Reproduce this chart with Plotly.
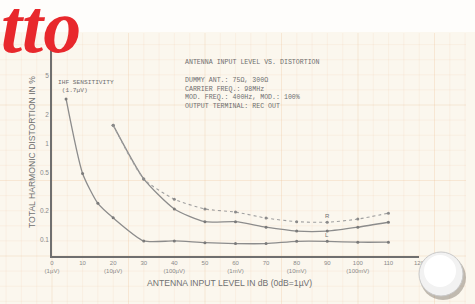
import math
import plotly.graph_objects as go

# ---- data ----
mono_x = [4.6, 10, 15, 20, 30, 40, 50, 60, 70, 80, 90, 100, 110]
mono_y = [2.9, 0.49, 0.24, 0.17, 0.098, 0.098, 0.094, 0.092, 0.092, 0.097, 0.097, 0.095, 0.095]
stl_x = [20, 30, 40, 50, 60, 70, 80, 90, 100, 110]
stl_y = [1.55, 0.43, 0.21, 0.155, 0.155, 0.136, 0.124, 0.124, 0.136, 0.153]
str_x = [20, 30, 40, 50, 60, 70, 80, 90, 100, 110]
str_y = [1.55, 0.43, 0.265, 0.21, 0.195, 0.169, 0.155, 0.153, 0.165, 0.19]
x_ticks = [0, 10, 20, 30, 40, 50, 60, 70, 80, 90, 100, 110, 120]
x_ticktext = ["0<br>(1µV)", "10", "20<br>(10µV)", "30", "40<br>(100µV)", "50", "60<br>(1mV)",
              "70", "80<br>(10mV)", "90", "100<br>(100mV)", "110", "120"]
y_ticks = [0.1, 0.2, 0.5, 1, 2, 5]
y_ticktext = ["0.1", "0.2", "0.5", "1", "2", "5"]

W, H = 475, 304
L, R, T, B = 52, 56, 47, 48
PW, PH = W - L - R, H - T - B

def px(x):
    return (x - L) / PW

def py(y):
    return (H - B - y) / PH

LINE = "#8c8c8c"
fig = go.Figure()
fig.add_trace(go.Scatter(x=mono_x, y=mono_y, mode="lines+markers", line=dict(color=LINE, width=1.3, shape="spline", smoothing=0.6),
                         marker=dict(size=3, color="#7a7a7a"), showlegend=False))
fig.add_trace(go.Scatter(x=stl_x, y=stl_y, mode="lines+markers", line=dict(color=LINE, width=1.3, shape="spline", smoothing=0.6),
                         marker=dict(size=3, color="#7a7a7a"), showlegend=False))
fig.add_trace(go.Scatter(x=str_x, y=str_y, mode="lines+markers", line=dict(color="#a0a0a0", width=1.1, dash="dot", shape="spline", smoothing=0.6),
                         marker=dict(size=3, color="#8a8a8a"), showlegend=False))

shapes = []
# graph paper background
shapes.append(dict(type="rect", xref="paper", yref="paper", x0=px(0), x1=px(W), y0=py(0), y1=py(32),
                   fillcolor="#fefdfb", line=dict(width=0), layer="below"))
GRID = "rgba(240,195,160,0.15)"
GRID_H = "rgba(236,185,140,0.26)"
k = -3
while True:
    xx = L + 15.3 * k
    if xx > 466:
        break
    shapes.append(dict(type="line", xref="paper", yref="paper", x0=px(xx), x1=px(xx), y0=py(33), y1=py(H),
                       line=dict(color=GRID_H if k % 5 == 0 else GRID, width=1), layer="below"))
    k += 1
k = -3
while True:
    yy = (H - B) - 15.1 * k
    if yy < 33:
        break
    shapes.append(dict(type="line", xref="paper", yref="paper", x0=px(0), x1=px(466), y0=py(yy), y1=py(yy),
                       line=dict(color=GRID_H if k % 5 == 0 else GRID, width=1), layer="below"))
    k += 1
# ball
shapes.append(dict(type="circle", xref="paper", yref="paper", x0=px(420), x1=px(466), y0=py(255), y1=py(300),
                   fillcolor="rgba(120,110,100,0.45)", line=dict(width=0), layer="above"))
shapes.append(dict(type="circle", xref="paper", yref="paper", x0=px(419), x1=px(463), y0=py(252), y1=py(296),
                   fillcolor="#f2f2f2", line=dict(color="#c9c9c9", width=1), layer="above"))
shapes.append(dict(type="circle", xref="paper", yref="paper", x0=px(424), x1=px(456), y0=py(255), y1=py(287),
                   fillcolor="#ffffff", line=dict(width=0), layer="above"))

MONO = "Liberation Mono"
TXT = "#6e6e6e"
annotations = [
    dict(text="tto", xref="paper", yref="paper", x=px(-1), y=py(-18), xanchor="left", yanchor="top", showarrow=False,
         font=dict(family="Liberation Serif", size=76, color="#e8282c", style="italic", weight="bold")),
    dict(text="ANTENNA INPUT LEVEL VS. DISTORTION", xref="paper", yref="paper", x=px(183), y=py(62), xanchor="left",
         yanchor="middle", showarrow=False, font=dict(family=MONO, size=6.6, color=TXT)),
    dict(text="DUMMY ANT.: 75Ω, 300Ω<br>CARRIER FREQ.: 98MHz<br>MOD. FREQ.: 400Hz, MOD.: 100%<br>OUTPUT TERMINAL: REC OUT",
         xref="paper", yref="paper", x=px(183), y=py(75), xanchor="left", yanchor="top", align="left", showarrow=False,
         font=dict(family=MONO, size=6.6, color=TXT)),
    dict(text="IHF SENSITIVITY<br> (1.7µV)", xref="paper", yref="paper", x=px(56), y=py(77), xanchor="left",
         yanchor="top", align="left", showarrow=False, font=dict(family=MONO, size=6.2, color=TXT)),
    dict(text="R", xref="x", yref="y", x=90, y=math.log10(0.176), showarrow=False,
         font=dict(family="Liberation Sans", size=6, color=TXT)),
    dict(text="L", xref="x", yref="y", x=90, y=math.log10(0.112), showarrow=False,
         font=dict(family="Liberation Sans", size=6, color=TXT)),
    dict(text="ANTENNA INPUT LEVEL IN dB (0dB=1µV)", xref="paper", yref="paper", x=px(229), y=py(283),
         xanchor="center", yanchor="middle", showarrow=False, font=dict(family="Liberation Sans", size=8.6, color="#707070")),
    dict(text="TOTAL HARMONIC DISTORTION IN %", xref="paper", yref="paper", x=px(32), y=py(152), textangle=-90,
         xanchor="center", yanchor="middle", showarrow=False, font=dict(family="Liberation Sans", size=8.6, color="#707070")),
]

fig.update_layout(
    width=W, height=H, margin=dict(l=L, r=R, t=T, b=B),
    paper_bgcolor="#fbf7ee", plot_bgcolor="rgba(0,0,0,0)",
    shapes=shapes, annotations=annotations,
    xaxis=dict(range=[0, 120], tickvals=x_ticks, ticktext=x_ticktext, showgrid=False, zeroline=False,
               showline=True, linecolor="#6f6f6f", linewidth=1.5, ticks="",
               tickfont=dict(family="Liberation Sans", size=6, color="#8a8a8a")),
    yaxis=dict(type="log", range=[-1.165, 1.0], tickvals=y_ticks, ticktext=y_ticktext, showgrid=False,
               zeroline=False, showline=True, linecolor="#6f6f6f", linewidth=1.5, ticks="",
               tickfont=dict(family="Liberation Sans", size=6.5, color="#8a8a8a")),
)
fig.write_html("out.html", config={"displayModeBar": False},
               post_script="document.body.style.margin='0';document.body.style.background='#fbf7ee';")
